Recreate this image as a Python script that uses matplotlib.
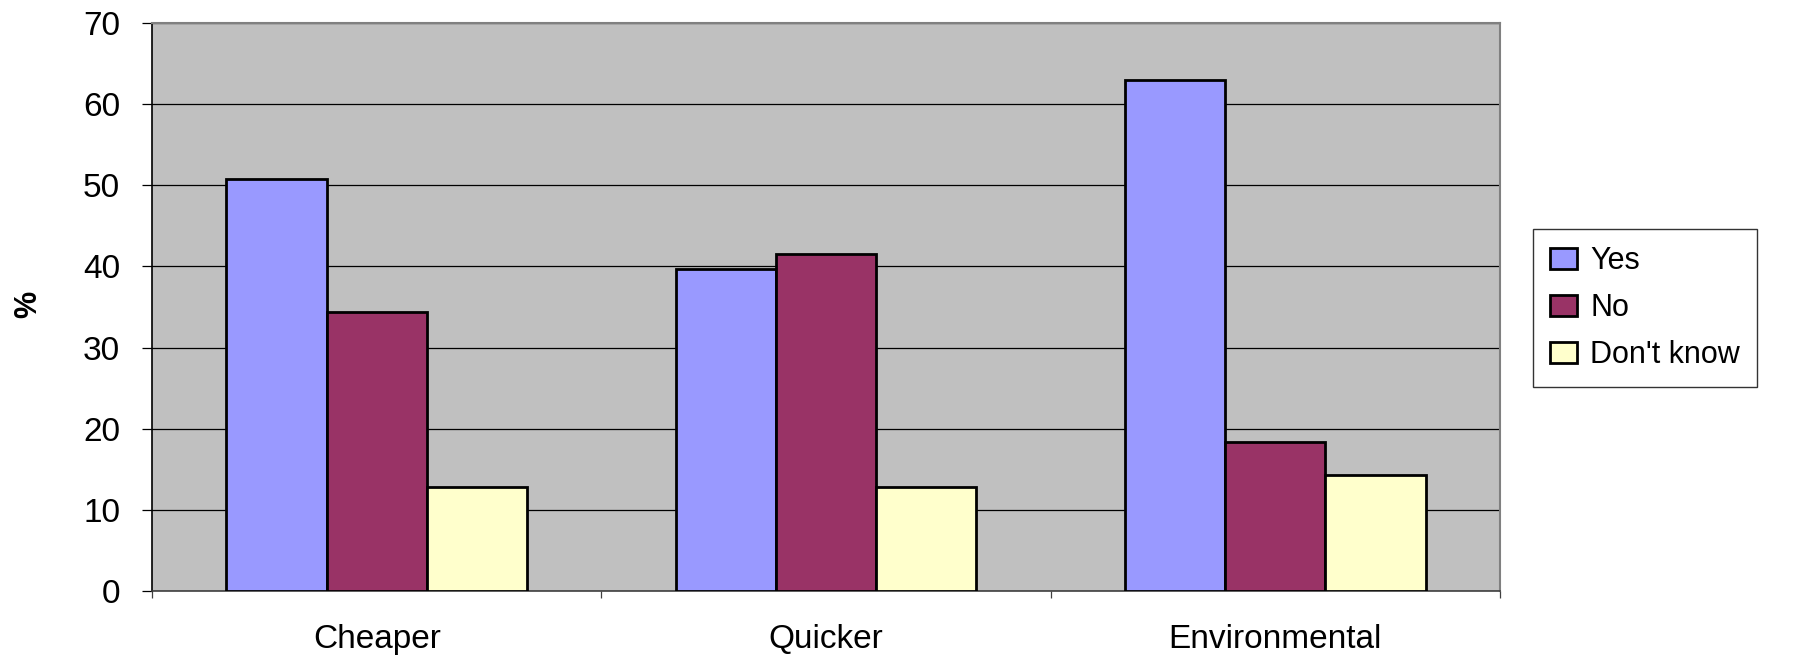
import numpy as np
import matplotlib.pyplot as plt

plt.rcParams['font.family'] = ['Liberation Sans', 'DejaVu Sans']

categories = ['Cheaper', 'Quicker', 'Environmental']
series = ['Yes', 'No', "Don't know"]
yes_vals = [50.8, 39.7, 63.0]
no_vals = [34.4, 41.5, 18.4]
dk_vals = [12.8, 12.8, 14.3]
colors = ['#9999FF', '#993366', '#FFFFCC']

fig = plt.figure(figsize=(18.02, 6.57), dpi=100)
ax = fig.add_axes([0.0844, 0.1005, 0.748, 0.8645])
ax.set_facecolor('#C0C0C0')

x = np.arange(len(categories))
w = 0.223
for i, (vals, name) in enumerate(zip([yes_vals, no_vals, dk_vals], series)):
    ax.bar(x + (i - 1) * w, vals, w, color=colors[i], edgecolor='black',
           linewidth=2, label=name, zorder=3)

ax.set_xlim(-0.5, 2.5)
ax.set_ylim(0, 70)
ax.set_yticks(range(0, 71, 10))
ax.yaxis.grid(True, color='black', linewidth=0.9, zorder=1)
ax.set_axisbelow(True)

# category labels at centres, tick marks at the group boundaries
ax.set_xticks(x)
ax.set_xticklabels(categories)
ax.set_xticks(np.arange(-0.5, 3.0, 1.0), minor=True)
ax.tick_params(axis='x', which='major', length=0, pad=24, labelsize=24)
ax.tick_params(axis='x', which='minor', length=5, width=0.9, color='#404040')
ax.tick_params(axis='y', length=7, width=0.9, pad=16, labelsize=24)

for s in ['top', 'right']:
    ax.spines[s].set_color('#808080')
    ax.spines[s].set_linewidth(1.5)
ax.spines['left'].set_linewidth(1.2)
ax.spines['bottom'].set_linewidth(1.2)
ax.spines['bottom'].set_color('#404040')

fig.text(28 / 1802, 1 - 304 / 657, '%', rotation=90, fontsize=22,
         fontweight='bold', ha='center', va='center')

leg = fig.legend(loc='center left', bbox_to_anchor=(1533 / 1802, 1 - 308 / 657),
                 fontsize=22, handlelength=0.88, handleheight=0.68,
                 handletextpad=0.45, labelspacing=0.55, borderpad=0.55,
                 borderaxespad=0, fancybox=False, frameon=True)
leg.get_frame().set_edgecolor('black')
leg.get_frame().set_linewidth(1.0)
for p in leg.get_patches():
    p.set_linewidth(2)

fig.savefig('out.png', dpi=100)
